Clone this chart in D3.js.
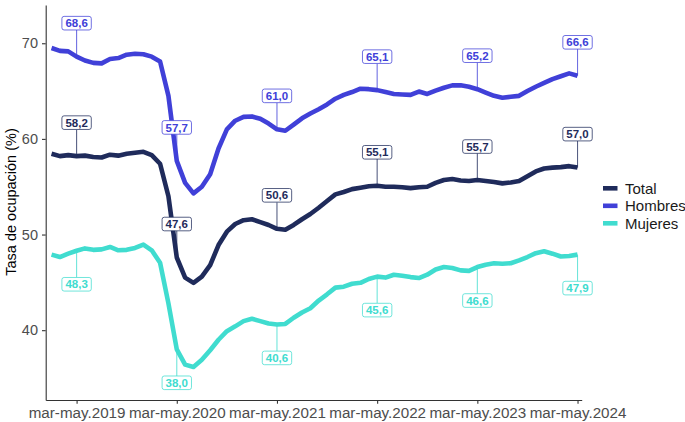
<!DOCTYPE html>
<html>
<head>
<meta charset="utf-8">
<script src="https://cdn.jsdelivr.net/npm/d3@7"></script>
<style>
  body { margin: 0; background: #fff; }
  svg { display: block; font-family: "Liberation Sans", Arial, sans-serif; }
</style>
</head>
<body>
<svg></svg>
<script>
// trimestres moviles, de dic-feb.2019 a mar-may.2024
var meses = ["ene","feb","mar","abr","may","jun","jul","ago","sep","oct","nov","dic"];
var periodos = [];
for (var k = 0; k < 64; k++) {
  var fin = 1 + k;               // mes final, 1 = feb 2019
  var anio = 2019 + Math.floor(fin / 12);
  periodos.push(meses[(fin + 10) % 12] + "-" + meses[fin % 12] + "." + anio);
}

var total = [58.45,58.2,58.3,58.2,58.25,58.1,58.05,58.35,58.25,58.45,58.55,58.65,58.3,57.4,54.0,47.6,
  45.5,44.95,45.6,46.8,48.9,50.3,51.1,51.5,51.6,51.3,51.0,50.6,50.5,51.0,51.6,52.15,
  52.8,53.5,54.2,54.45,54.75,54.9,55.05,55.1,55.0,55.0,54.95,54.85,54.95,55.0,55.4,55.7,
  55.8,55.65,55.6,55.7,55.6,55.5,55.35,55.45,55.6,56.1,56.6,56.9,57.0,57.05,57.15,57.0];

var hombres = [69.5,69.2,69.15,68.6,68.2,67.95,67.9,68.35,68.45,68.8,68.9,68.85,68.6,68.1,64.5,57.7,
  55.4,54.3,55.0,56.3,59.0,61.0,61.9,62.3,62.35,62.1,61.6,61.0,60.85,61.5,62.15,62.65,
  63.1,63.6,64.2,64.6,64.9,65.25,65.2,65.1,64.9,64.7,64.65,64.6,64.95,64.7,65.05,65.35,
  65.6,65.6,65.45,65.2,64.85,64.5,64.3,64.4,64.5,65.0,65.45,65.85,66.25,66.55,66.85,66.6];

var mujeres = [47.9,47.65,48.0,48.3,48.55,48.4,48.45,48.7,48.35,48.4,48.6,48.95,48.35,47.05,42.8,38.0,
  36.4,36.15,36.9,37.9,39.0,39.9,40.4,40.95,41.2,40.95,40.7,40.6,40.65,41.3,41.85,42.3,
  43.1,43.75,44.45,44.55,44.85,44.95,45.35,45.6,45.5,45.8,45.7,45.55,45.45,45.8,46.35,46.6,
  46.5,46.25,46.2,46.6,46.85,47.0,46.95,47.0,47.3,47.65,48.05,48.25,48.0,47.7,47.75,47.9];

var etiquetasX = ["mar-may.2019","mar-may.2020","mar-may.2021","mar-may.2022","mar-may.2023","mar-may.2024"];
var ticksY = [40, 50, 60, 70];

var series = [
  {nombre: "Total",   valores: total,   color: "#1f2b5b", arriba: true},
  {nombre: "Hombres", valores: hombres, color: "#4040d8", arriba: true},
  {nombre: "Mujeres", valores: mujeres, color: "#40dccf", arriba: false}
];

var w = 685, h = 422;
var svg = d3.select("svg").attr("width", w).attr("height", h);

var x = d3.scaleLinear().domain([-0.7, 63.5]).range([45.7, 581.7]);
var y = d3.scaleLinear().domain([32.7, 74]).range([400, 5]);

var fmt = function(v) { return d3.format(".1f")(v).replace(".", ","); };

// ejes
var ejeX = svg.append("g").attr("transform", "translate(0,400)")
  .call(d3.axisBottom(x)
    .tickValues(etiquetasX.map(function(p) { return periodos.indexOf(p); }))
    .tickFormat(function(i) { return periodos[i]; })
    .tickSize(3.7).tickSizeOuter(0).tickPadding(3.4));
var ejeY = svg.append("g").attr("transform", "translate(45.7,0)")
  .call(d3.axisLeft(y).tickValues(ticksY).tickSize(3.7).tickSizeOuter(0).tickPadding(4));

[ejeX, ejeY].forEach(function(g) {
  g.select(".domain").attr("stroke", "#333").attr("stroke-width", 1.1);
  g.selectAll(".tick line").attr("stroke", "#333").attr("stroke-width", 1.1);
  g.selectAll(".tick text").attr("fill", "#4d4d4d")
    .style("font-family", "'Liberation Sans', Arial, sans-serif");
});
ejeX.selectAll(".tick text").style("font-size", "15.2px");
ejeY.selectAll(".tick text").style("font-size", "14.5px");

svg.append("text")
  .attr("transform", "translate(16,202) rotate(-90)")
  .attr("text-anchor", "middle")
  .style("font-size", "14.5px")
  .attr("fill", "#000")
  .text("Tasa de ocupación (%)");

// lineas
var linea = d3.line()
  .x(function(d, i) { return x(i); })
  .y(function(d) { return y(d); });

svg.selectAll("path.serie")
  .data(series)
  .enter()
  .append("path")
  .attr("class", "serie")
  .attr("d", function(d) { return linea(d.valores); })
  .attr("fill", "none")
  .attr("stroke", function(d) { return d.color; })
  .attr("stroke-width", 4.6)
  .attr("stroke-linejoin", "round");

// etiquetas en cada mar-may
var idxEtiq = etiquetasX.map(function(p) { return periodos.indexOf(p); });
series.forEach(function(s) {
  idxEtiq.forEach(function(i) {
    var v = s.valores[i];
    var px = x(i), py = y(v);
    var ly = y(s.arriba ? v + 3.5 : v - 3.5);
    var g = svg.append("g");
    var edge = s.arriba ? ly + 6.8 : ly - 6.8;
    g.append("line")
      .attr("x1", px).attr("x2", px)
      .attr("y1", py).attr("y2", edge)
      .attr("stroke", s.color).attr("stroke-opacity", 0.75).attr("stroke-width", 1.1);
    var t = g.append("text")
      .attr("x", px).attr("y", ly)
      .attr("text-anchor", "middle")
      .attr("dy", "0.36em")
      .style("font-size", "11.5px")
      .style("font-weight", "bold")
      .attr("fill", s.color)
      .text(fmt(v));
    var bw = t.node().getComputedTextLength() + 7;
    g.insert("rect", "text")
      .attr("x", px - bw / 2).attr("y", ly - 6.8)
      .attr("width", bw).attr("height", 13.6)
      .attr("rx", 2.2)
      .attr("fill", "#fff")
      .attr("stroke", s.color).attr("stroke-opacity", 0.75).attr("stroke-width", 1);
  });
});

// leyenda
var ley = svg.selectAll("g.ley")
  .data(series)
  .enter()
  .append("g")
  .attr("class", "ley")
  .attr("transform", function(d, i) { return "translate(603," + (188.3 + i * 17.5) + ")"; });
ley.append("line")
  .attr("x1", 0).attr("x2", 14.5)
  .attr("stroke", function(d) { return d.color; })
  .attr("stroke-width", 4.6);
ley.append("text")
  .attr("x", 22).attr("dy", "0.36em")
  .style("font-size", "15px")
  .attr("fill", "#1a1a1a")
  .text(function(d) { return d.nombre; });
</script>
</body>
</html>
